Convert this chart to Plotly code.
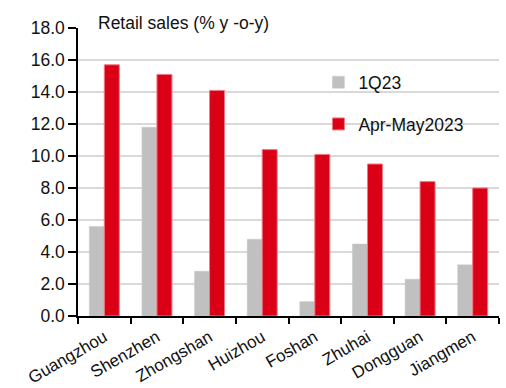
import plotly.graph_objects as go

cities = ["Guangzhou", "Shenzhen", "Zhongshan", "Huizhou", "Foshan", "Zhuhai", "Dongguan", "Jiangmen"]
q1_2023 = [5.6, 11.8, 2.8, 4.8, 0.9, 4.5, 2.3, 3.2]
apr_may_2023 = [15.7, 15.1, 14.1, 10.4, 10.1, 9.5, 8.4, 8.0]
y_ticks = [0, 2, 4, 6, 8, 10, 12, 14, 16, 18]
y_tick_labels = [f"{v:.1f}" for v in y_ticks]

FONT = "Liberation Sans, Arial, sans-serif"
FS = 17.5

fig = go.Figure()
fig.add_trace(go.Bar(
    x=cities, y=q1_2023, name="1Q23", legendgroup="a",
    marker=dict(color="#C0C0C0", line=dict(color="#C8C8C8", width=0.5)),
))
fig.add_trace(go.Bar(
    x=cities, y=apr_may_2023, name="Apr-May2023", legendgroup="b",
    marker=dict(color="#DA0016", line=dict(color="#F07A86", width=1)),
))

fig.update_layout(
    width=506, height=388,
    margin=dict(l=78, r=7, t=28, b=72),
    paper_bgcolor="white", plot_bgcolor="white",
    barmode="group", bargap=0.43, bargroupgap=0,
    font=dict(family=FONT, size=FS, color="#111111"),
    legend=dict(x=0.571, y=0.874, xanchor="left", yanchor="top",
                bgcolor="rgba(0,0,0,0)", font=dict(size=FS),
                itemwidth=30, tracegroupgap=16, traceorder="grouped"),
    annotations=[dict(
        text="Retail sales (% y -o-y)", xref="paper", yref="paper",
        x=0.043, y=1.016, xanchor="left", yanchor="middle",
        showarrow=False, font=dict(family=FONT, size=FS, color="#111111"),
    )],
)

fig.update_yaxes(
    range=[0, 18], tickvals=y_ticks, ticktext=y_tick_labels,
    showgrid=True, gridcolor="#D9D9D9", gridwidth=1.5,
    showline=True, linecolor="black", linewidth=1.5,
    ticks="outside", ticklen=8, tickwidth=1.5, tickcolor="black",
    zeroline=False, tickfont=dict(size=FS), automargin=False,
)
fig.update_xaxes(
    showline=True, linecolor="black", linewidth=1.5,
    ticks="outside", ticklen=6, tickwidth=1.5, tickcolor="black",
    tickson="boundaries", tickangle=-30, tickfont=dict(size=17),
    showgrid=False, automargin=False, ticklabelstandoff=3,
)

fig.write_html("out.html")
